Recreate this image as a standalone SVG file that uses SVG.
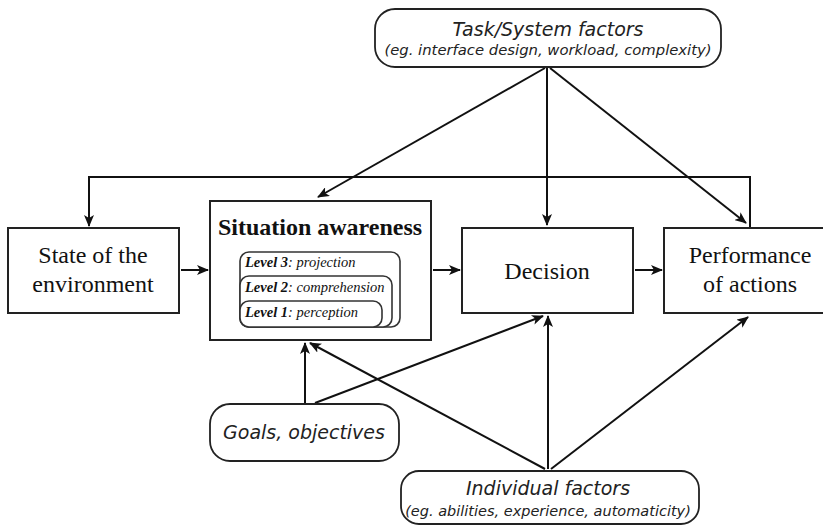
<svg xmlns="http://www.w3.org/2000/svg" width="823" height="527" viewBox="0 0 823 527">
<defs>
<marker id="ah" viewBox="0 0 12 10" refX="11" refY="5" markerWidth="12" markerHeight="10" markerUnits="userSpaceOnUse" orient="auto">
<path d="M0,0 L12,5 L0,10 L3,5 Z" fill="#111"/>
</marker>
<style>
.box{fill:#fff;stroke:#222;stroke-width:2}
.rbox{fill:#fff;stroke:#222;stroke-width:1.8}
.lvl{fill:#fff;stroke:#333;stroke-width:1.6}
.ser{font-family:"Liberation Serif","Times New Roman",serif;font-size:24px;fill:#111;text-anchor:middle}
.sans{font-family:"DejaVu Sans",sans-serif;font-style:italic;fill:#222;text-anchor:middle}
.lv{font-family:"Liberation Serif","Times New Roman",serif;font-style:italic;font-size:14.5px;fill:#111}
.con{fill:none;stroke:#111;stroke-width:2;marker-end:url(#ah)}
</style>
</defs>
<rect width="823" height="527" fill="#fff"/>
<g id="connectors">
<polyline class="con" points="750,228 750,177 89,177 89,226"/>
<line class="con" x1="545" y1="68" x2="318" y2="197"/>
<line class="con" x1="547" y1="68" x2="547" y2="225"/>
<line class="con" x1="550" y1="68" x2="746" y2="223"/>
<line class="con" x1="181" y1="270" x2="208" y2="270"/>
<line class="con" x1="433" y1="270" x2="460" y2="270"/>
<line class="con" x1="635" y1="270" x2="662" y2="270"/>
<line class="con" x1="305" y1="403" x2="305" y2="343"/>
<line class="con" x1="315" y1="403" x2="543" y2="316"/>
<line class="con" x1="545" y1="469" x2="310" y2="343"/>
<line class="con" x1="548" y1="469" x2="548" y2="316"/>
<line class="con" x1="551" y1="469" x2="748" y2="317"/>
</g>
<g id="task">
<rect class="rbox" x="375" y="9" width="346" height="58" rx="20"/>
<text class="sans" x="548" y="36" font-size="19">Task/System factors</text>
<text class="sans" x="548" y="55" font-size="14.8">(eg. interface design, workload, complexity)</text>
</g>
<g id="state">
<rect class="box" x="8" y="228" width="171" height="85"/>
<text class="ser" x="93" y="263">State of the</text>
<text class="ser" x="93" y="292">environment</text>
</g>
<g id="sa">
<rect class="box" x="210" y="201" width="221" height="139"/>
<text class="ser" x="320" y="235" font-weight="bold">Situation awareness</text>
<rect class="lvl" x="240" y="252" width="160" height="75" rx="9"/>
<rect class="lvl" x="240" y="276" width="152" height="51" rx="9"/>
<rect class="lvl" x="240" y="301" width="142" height="26" rx="9"/>
<text class="lv" x="245" y="267"><tspan font-weight="bold">Level 3</tspan>: projection</text>
<text class="lv" x="245" y="292"><tspan font-weight="bold">Level 2</tspan>: comprehension</text>
<text class="lv" x="245" y="317"><tspan font-weight="bold">Level 1</tspan>: perception</text>
</g>
<g id="decision">
<rect class="box" x="462" y="228" width="171" height="85"/>
<text class="ser" x="547" y="279">Decision</text>
</g>
<g id="performance">
<rect class="box" x="664" y="228" width="170" height="85"/>
<text class="ser" x="750" y="263">Performance</text>
<text class="ser" x="750" y="292">of actions</text>
</g>
<g id="goals">
<rect class="rbox" x="210" y="404" width="189" height="57" rx="20"/>
<text class="sans" x="304" y="439" font-size="19">Goals, objectives</text>
</g>
<g id="individual">
<rect class="rbox" x="401" y="471" width="298" height="53" rx="18"/>
<text class="sans" x="548" y="495" font-size="19">Individual factors</text>
<text class="sans" x="548" y="516" font-size="14.5">(eg. abilities, experience, automaticity)</text>
</g>
</svg>
